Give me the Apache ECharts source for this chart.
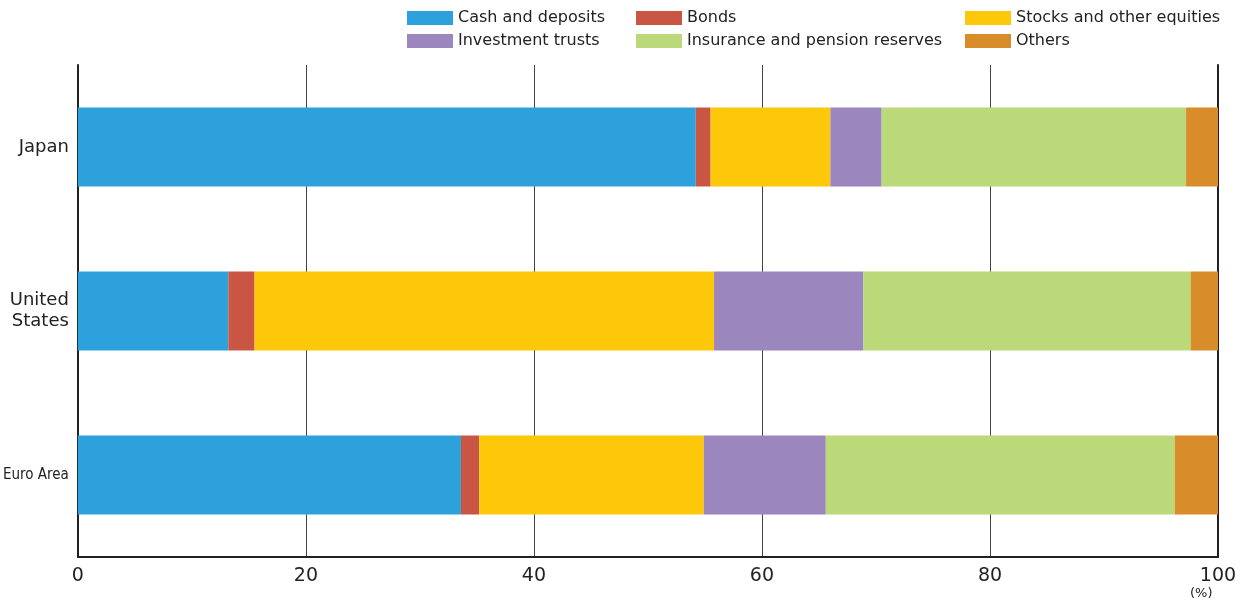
<!DOCTYPE html>
<html>
<head>
<meta charset="utf-8">
<script src="https://cdn.jsdelivr.net/npm/echarts@6/dist/echarts.min.js"></script>
<style>
  html, body { margin: 0; padding: 0; background: #fff; }
  #chart { width: 1245px; height: 604px; }
</style>
</head>
<body>
<div id="chart"></div>
<script>
// Household financial assets composition (%)
const regions = ['Japan', 'United\nStates', 'Euro Area'];
const seriesNames = ['Cash and deposits', 'Bonds', 'Stocks and other equities',
  'Investment trusts', 'Insurance and pension reserves', 'Others'];
const cashDeposits   = [54.2, 13.2, 33.6];
const bonds          = [1.3, 2.3, 1.6];
const stocks         = [10.5, 40.3, 19.7];
const investTrusts   = [4.5, 13.1, 10.7];
const insurance      = [26.7, 28.7, 30.6];
const others         = [2.8, 2.4, 3.8];
const xTicks = [0, 20, 40, 60, 80, 100];

const values = [cashDeposits, bonds, stocks, investTrusts, insurance, others];
const colors = ['#2ca1dc', '#c85643', '#fec80a', '#9b86bd', '#bbd978', '#d98c2a'];
const font = '"DejaVu Sans", sans-serif';

const chart = echarts.init(document.getElementById('chart'));

function legendCol(left, names) {
  return {
    left: left, top: 10, orient: 'vertical', padding: 0,
    itemWidth: 46, itemHeight: 14, itemGap: 7,
    icon: 'rect', selectedMode: false,
    textStyle: { fontSize: 16, color: '#222', fontFamily: font },
    data: names
  };
}

chart.setOption({
  animation: false,
  color: colors,
  legend: [
    legendCol(407, [seriesNames[0], seriesNames[3]]),
    legendCol(636, [seriesNames[1], seriesNames[4]]),
    legendCol(965, [seriesNames[2], seriesNames[5]])
  ],
  grid: { left: 77, right: 27, top: 65, bottom: 47 },
  xAxis: {
    type: 'value', min: 0, max: 100, interval: 20,
    axisLine: { show: true, lineStyle: { color: '#222', width: 2 } },
    axisTick: { show: false },
    splitLine: { show: true, lineStyle: { color: '#444', width: 1 } },
    axisLabel: {
      color: '#222', fontSize: 19, fontFamily: font, margin: 10,
      formatter: v => xTicks.includes(v) ? String(v) : ''
    }
  },
  yAxis: [{
    type: 'category', data: regions, inverse: true,
    axisLine: { show: true, lineStyle: { color: '#222', width: 2 } },
    axisTick: { show: false },
    axisLabel: {
      color: '#222', fontSize: 18, fontFamily: font, margin: 9, lineHeight: 21,
      formatter: v => v === 'Euro Area' ? '{n|' + v + '}' : v,
      rich: { n: { fontFamily: '"DejaVu Sans Condensed", sans-serif', fontSize: 15, color: '#222' } }
    }
  }, {
    type: 'category', data: regions, inverse: true, position: 'right',
    axisLine: { show: true, lineStyle: { color: '#222', width: 2 } },
    axisTick: { show: false }, axisLabel: { show: false }
  }],
  graphic: [{
    type: 'text', left: 1190, top: 587,
    style: { text: '(%)', fontSize: 13, fill: '#222', fontFamily: font }
  }],
  series: seriesNames.map((name, i) => ({
    name: name, type: 'bar', stack: 'total', barWidth: 79,
    itemStyle: { color: colors[i] },
    data: values[i]
  }))
});
</script>
</body>
</html>
